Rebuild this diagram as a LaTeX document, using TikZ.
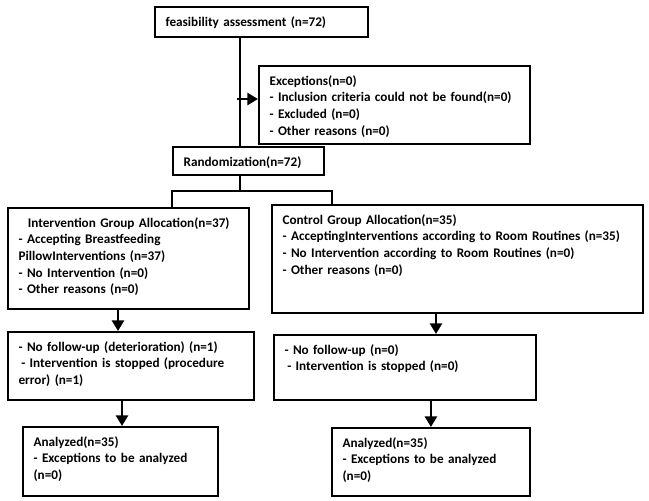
\documentclass[tikz,border=0pt]{standalone}
\usepackage{fontspec}
\setmainfont{Carlito}
\usetikzlibrary{arrows.meta}

\tikzset{
  flowbox/.style={draw, line width=1.4pt, anchor=north west, align=left,
    inner xsep=8pt, inner ysep=3pt, text height=11.5pt,
    font=\fontsize{9.9}{12.5}\selectfont\bfseries},
  link/.style={line width=1.4pt},
  arr/.style={line width=2pt, -{Triangle[length=8pt,width=9pt]}}
}

\begin{document}
\begin{tikzpicture}[x=0.75pt,y=0.75pt,yscale=-1,xscale=1]
\useasboundingbox (0,0) rectangle (649,500);

% Boxes
\node[flowbox, text width=143.75pt, text depth=5pt] (feas) at (154,6) {feasibility assessment (n=72)};
\node[flowbox, text width=187.25pt, text depth=41pt] (excl) at (258,65) {Exceptions(n=0)\\- Inclusion criteria could not be found(n=0)\\- Excluded (n=0)\\- Other reasons (n=0)};
\node[flowbox, text width=97.25pt, text depth=3.5pt] (rand) at (172,146) {Randomization(n=72)};
\node[flowbox, text width=164.75pt, text depth=58.25pt] (intv) at (7,207) {\hspace*{7pt}Intervention Group Allocation(n=37)\\- Accepting Breastfeeding\\PillowInterventions (n=37)\\- No Intervention (n=0)\\- Other reasons (n=0)};
\node[flowbox, text width=262.25pt, text depth=63.5pt] (ctrl) at (271,204) {Control Group Allocation(n=35)\\- AcceptingInterventions according to Room Routines (n=35)\\- No Intervention according to Room Routines (n=0)\\- Other reasons (n=0)};
\node[flowbox, text width=168.5pt, text depth=33.5pt] (fupL) at (7,331) {- No follow-up (deterioration) (n=1)\\\hspace*{2pt}- Intervention is stopped (procedure\\error) (n=1)};
\node[flowbox, text width=180.5pt, text depth=31.25pt] (fupR) at (273,334) {- No follow-up (n=0)\\\hspace*{2pt}- Intervention is stopped (n=0)};
\node[flowbox, text width=130.25pt, text depth=34.25pt] (anaL) at (22,426) {Analyzed(n=35)\\- Exceptions to be analyzed\\(n=0)};
\node[flowbox, text width=132.5pt, text depth=33.5pt] (anaR) at (331,427) {Analyzed(n=35)\\- Exceptions to be analyzed\\(n=0)};

% Helper points
\coordinate (spine) at (240,99);
\coordinate (tick) at (237,99);
\coordinate (splitL) at (172,191);
\coordinate (splitR) at (332,191);
\coordinate (dropL) at (118,0);
\coordinate (dropL2) at (122,0);
\coordinate (dropR) at (436,0);

% Connectors
\draw[link] (feas.south -| spine) -- (rand.north -| spine);
\draw[arr] (tick) -- (tick -| excl.west);
\draw[link] (rand.south -| spine) -- (spine |- splitL);
\draw[link] (splitL |- intv.north) -- (splitL) -- (splitR) -- (splitR |- ctrl.north);
\draw[arr] (intv.south -| dropL) -- (fupL.north -| dropL);
\draw[arr] (ctrl.south -| dropR) -- (fupR.north -| dropR);
\draw[arr] (fupL.south -| dropL2) -- (anaL.north -| dropL2);
\draw[arr] (fupR.south -| anaR.north) -- (anaR.north);

\end{tikzpicture}
\end{document}
